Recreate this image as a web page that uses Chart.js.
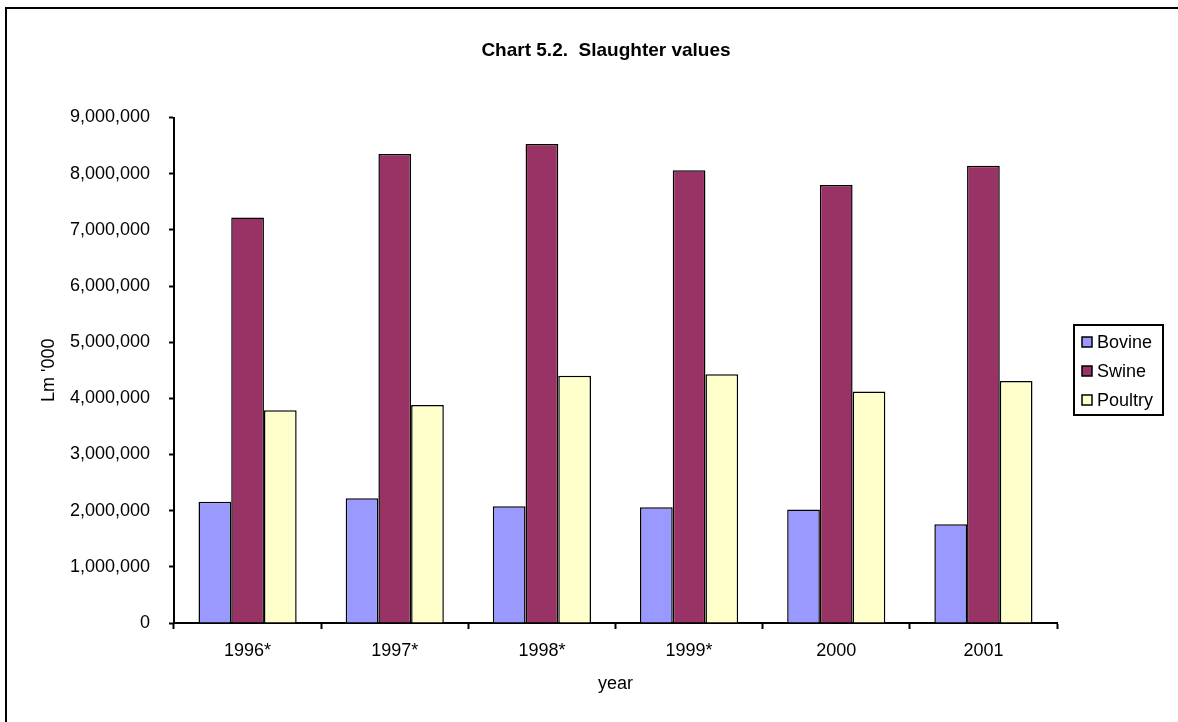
<!DOCTYPE html>
<html>
<head>
<meta charset="utf-8">
<title>Chart 5.2. Slaughter values</title>
<script src="https://cdn.jsdelivr.net/npm/chart.js@4.4.1/dist/chart.umd.min.js"></script>
<style>
  html, body { margin: 0; padding: 0; background: #fff; }
  #wrap { width: 1178px; height: 722px; }
</style>
</head>
<body>
<div id="wrap"><canvas id="slaughterChart" width="1178" height="722"></canvas></div>
<script>
'use strict';

/* global Chart */

// --- data (Lm '000) ---
const YEARS   = ['1996*', '1997*', '1998*', '1999*', '2000', '2001'];
const BOVINE  = [2160000, 2220000, 2080000, 2060000, 2020000, 1760000];
const SWINE   = [7220000, 8350000, 8530000, 8060000, 7800000, 8140000];
const POULTRY = [3790000, 3880000, 4400000, 4430000, 4120000, 4310000];
const Y_TICKS = [0, 1000000, 2000000, 3000000, 4000000, 5000000, 6000000, 7000000, 8000000, 9000000];
const TITLE   = 'Chart 5.2.  Slaughter values';

const FONT = 'Liberation Sans, Arial, sans-serif';
const BLACK = '#000000';

// left + top frame of the chart object (right/bottom are cropped off)
const framePlugin = {
  id: 'frame',
  beforeDraw(chart) {
    const ctx = chart.ctx;
    ctx.save();
    ctx.strokeStyle = BLACK;
    ctx.lineWidth = 2;
    ctx.beginPath();
    ctx.moveTo(6, chart.height);
    ctx.lineTo(6, 8);
    ctx.lineTo(chart.width, 8);
    ctx.stroke();
    ctx.restore();
  }
};

// title centred over the whole object, not just the plot + axes
const titlePlugin = {
  id: 'objTitle',
  afterDraw(chart) {
    const ctx = chart.ctx;
    ctx.save();
    ctx.font = 'bold 19px ' + FONT;
    ctx.fillStyle = BLACK;
    ctx.textAlign = 'center';
    ctx.textBaseline = 'middle';
    ctx.fillText(TITLE, 606, 51);
    ctx.restore();
  }
};

// boxed legend, Excel style
const boxLegend = {
  id: 'boxLegend',
  afterDraw(chart) {
    const ctx = chart.ctx;
    const x = 1074, y = 325, w = 89, h = 90;
    ctx.save();
    ctx.strokeStyle = BLACK;
    ctx.lineWidth = 2;
    ctx.strokeRect(x, y, w, h);
    ctx.font = '18px ' + FONT;
    ctx.textBaseline = 'middle';
    chart.data.datasets.forEach((ds, i) => {
      const cy = 342 + i * 29;
      ctx.fillStyle = ds.backgroundColor;
      ctx.fillRect(1082, cy - 5, 10, 10);
      ctx.lineWidth = 1.5;
      ctx.strokeRect(1082, cy - 5, 10, 10);
      ctx.fillStyle = BLACK;
      ctx.fillText(ds.label, 1097, cy + 1);
    });
    ctx.restore();
  }
};

const barStyle = { borderColor: BLACK, borderWidth: 1.5, categoryPercentage: 0.667, barPercentage: 1.0 };

new Chart(document.getElementById('slaughterChart'), {
  type: 'bar',
  data: {
    labels: YEARS,
    datasets: [
      { label: 'Bovine',  data: BOVINE,  backgroundColor: '#9999FF', ...barStyle },
      { label: 'Swine',   data: SWINE,   backgroundColor: '#993366', ...barStyle },
      { label: 'Poultry', data: POULTRY, backgroundColor: '#FFFFCC', ...barStyle }
    ]
  },
  options: {
    responsive: false,
    animation: false,
    layout: { padding: { left: 0, right: 121, top: 117.5, bottom: 0 } },
    plugins: {
      legend: { display: false },
      tooltip: { enabled: false },
      title: { display: false }
    },
    scales: {
      x: {
        grid: { drawOnChartArea: false, color: BLACK, tickColor: BLACK, tickLength: 6, tickWidth: 2, offset: true },
        border: { color: BLACK, width: 2 },
        ticks: { color: BLACK, font: { family: FONT, size: 18 }, padding: 11, maxRotation: 0 },
        title: { display: true, text: 'year', color: BLACK, font: { family: FONT, size: 18 }, padding: { top: 0, bottom: 27 } },
        afterFit(s) { s.height = 99; }
      },
      y: {
        min: 0,
        max: 9000000,
        afterBuildTicks(s) { s.ticks = Y_TICKS.map(v => ({ value: v })); },
        grid: { drawOnChartArea: false, color: BLACK, tickColor: BLACK, tickLength: 5, tickWidth: 2 },
        border: { color: BLACK, width: 2 },
        ticks: {
          color: BLACK,
          font: { family: FONT, size: 18 },
          padding: 19,
          callback: v => Number(v).toLocaleString('en-US')
        },
        title: { display: true, text: "Lm '000", color: BLACK, font: { family: FONT, size: 18 }, padding: { top: 38, bottom: 0 } },
        afterFit(s) { s.width = 174; }
      }
    }
  },
  plugins: [framePlugin, titlePlugin, boxLegend]
});
</script>
</body>
</html>
